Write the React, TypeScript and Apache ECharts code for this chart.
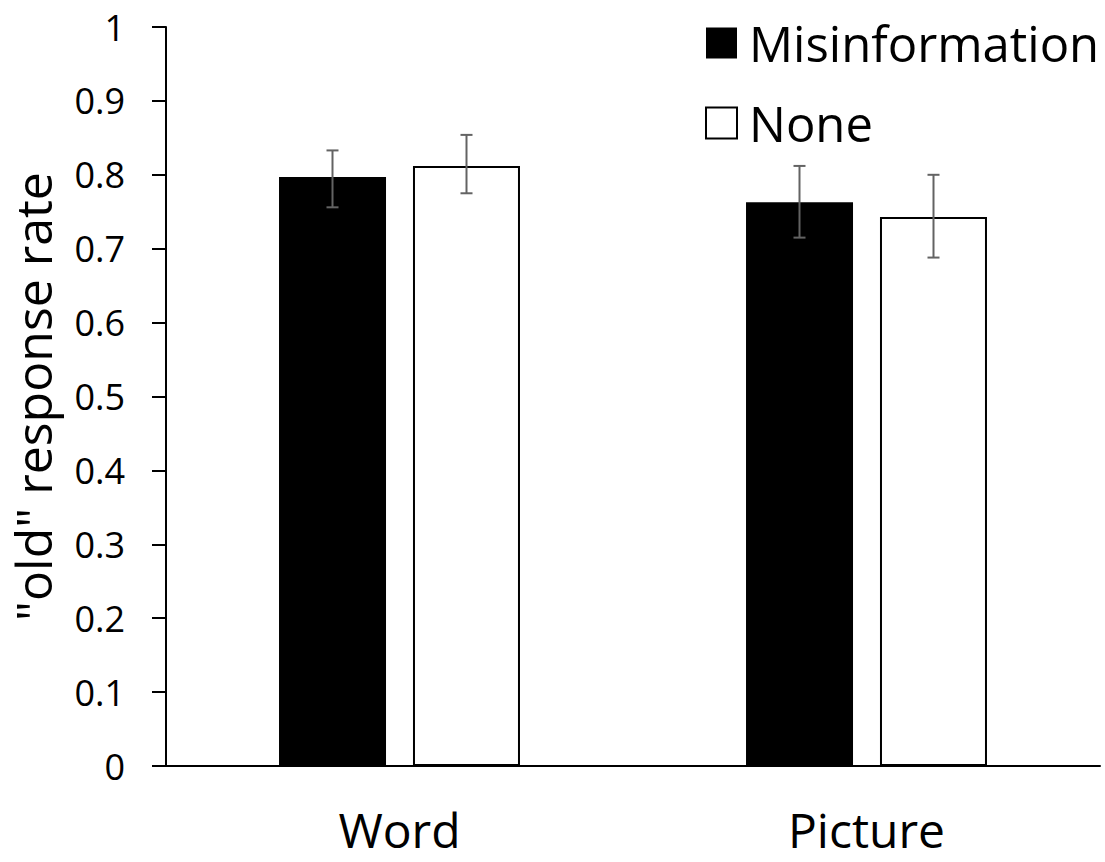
import React, { useEffect, useRef } from "react";
import * as echarts from "echarts";

// Categories and series values
const categories = ["Word", "Picture"];
const seriesNames = ["Misinformation", "None"];
const misinformation = [0.797, 0.763];
const none = [0.812, 0.743];
// Error bar extents (lower / upper)
const misinformationLow = [0.756, 0.715];
const misinformationHigh = [0.833, 0.812];
const noneLow = [0.775, 0.688];
const noneHigh = [0.854, 0.8];

const FONT = "'Open Sans', 'Noto Sans', sans-serif";
const BAR_WIDTH = 107;
const BAR_GAP_PX = 27;
const ERR_COLOR = "#636363";
const CAP_HALF = 6;

function errorSeries(low: number[], high: number[], offset: number) {
  return {
    type: "custom",
    z: 10,
    silent: true,
    data: categories.map((_, i) => [i, low[i], high[i]]),
    encode: { x: 0, y: [1, 2] },
    renderItem: (_params: any, api: any) => {
      const i = api.value(0);
      const lo = api.coord([i, api.value(1)]);
      const hi = api.coord([i, api.value(2)]);
      const x = lo[0] + offset;
      const style = { stroke: ERR_COLOR, lineWidth: 2 };
      return {
        type: "group",
        children: [
          { type: "line", shape: { x1: x, y1: lo[1], x2: x, y2: hi[1] }, style },
          { type: "line", shape: { x1: x - CAP_HALF, y1: hi[1], x2: x + CAP_HALF, y2: hi[1] }, style },
          { type: "line", shape: { x1: x - CAP_HALF, y1: lo[1], x2: x + CAP_HALF, y2: lo[1] }, style },
        ],
      };
    },
  };
}

export default function App() {
  const ref = useRef<HTMLDivElement>(null);

  useEffect(() => {
    if (!ref.current) return;
    const chart = echarts.init(ref.current, undefined, { renderer: "svg" });
    const offset = (BAR_WIDTH + BAR_GAP_PX) / 2;
    chart.setOption({
      animation: false,
      backgroundColor: "#ffffff",
      textStyle: { fontFamily: FONT },
      grid: { left: 162, right: 5, top: 27, bottom: 96, containLabel: false },
      legend: {
        orient: "vertical",
        left: 705,
        top: 18,
        padding: 0,
        itemWidth: 31,
        itemHeight: 31,
        itemGap: 30,
        icon: "rect",
        selectedMode: false,
        data: seriesNames,
        textStyle: { fontFamily: FONT, fontSize: 49, color: "#000", lineHeight: 50, padding: [0, 0, 0, 7] },
      },
      xAxis: {
        type: "category",
        data: categories,
        axisLine: { lineStyle: { color: "#000", width: 2 } },
        axisTick: { show: false },
        axisLabel: { fontFamily: FONT, fontSize: 48, color: "#000", margin: 43, lineHeight: 40 },
      },
      yAxis: {
        type: "value",
        min: 0,
        max: 1,
        interval: 0.1,
        name: '"old" response rate',
        nameLocation: "middle",
        nameGap: 108,
        nameTextStyle: { fontFamily: FONT, fontSize: 50, color: "#000" },
        axisLine: { show: true, lineStyle: { color: "#000", width: 2 } },
        axisTick: { show: true, inside: false, length: 14, lineStyle: { color: "#000", width: 2 } },
        splitLine: { show: false },
        axisLabel: {
          fontFamily: FONT,
          fontSize: 36,
          color: "#000",
          margin: 41,
          formatter: (v: number) => String(+v.toFixed(1)),
        },
      },
      series: [
        {
          name: seriesNames[0],
          type: "bar",
          data: misinformation,
          barWidth: BAR_WIDTH,
          barGap: `${((BAR_GAP_PX / BAR_WIDTH) * 100).toFixed(1)}%`,
          itemStyle: { color: "#000", borderColor: "#000", borderWidth: 0 },
        },
        {
          name: seriesNames[1],
          type: "bar",
          data: none,
          barWidth: BAR_WIDTH,
          itemStyle: { color: "#fff", borderColor: "#000", borderWidth: 2 },
        },
        errorSeries(misinformationLow, misinformationHigh, -offset),
        errorSeries(noneLow, noneHigh, offset),
      ],
    });
    return () => chart.dispose();
  }, []);

  return (
    <div
      ref={ref}
      style={{ position: "absolute", left: 0, top: 0, width: 1105, height: 862 }}
    />
  );
}
